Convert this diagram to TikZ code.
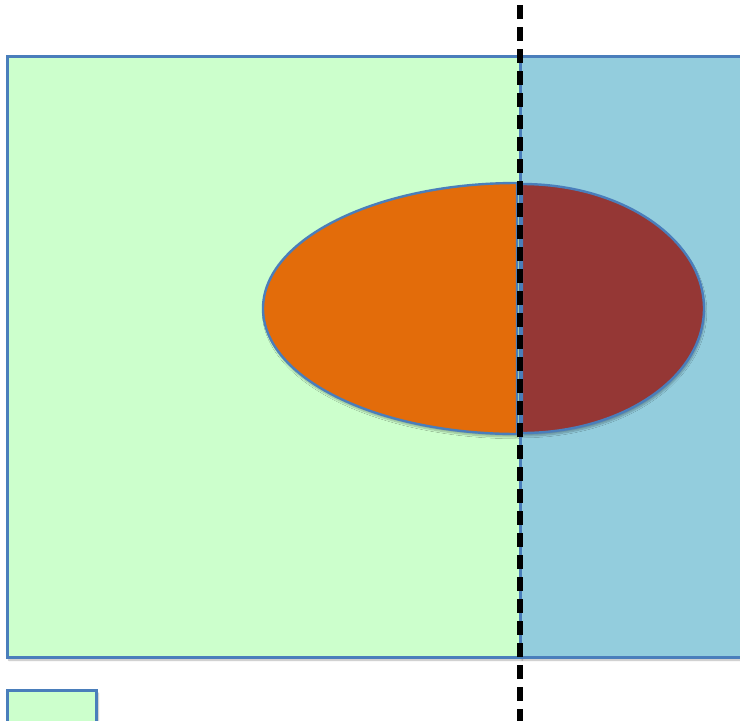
\documentclass[tikz,border=0pt]{standalone}
\usetikzlibrary{shadows.blur}
\definecolor{lgreen}{HTML}{CCFFCC}
\definecolor{lblue}{HTML}{93CDDD}
\definecolor{orng}{HTML}{E36C0A}
\definecolor{dred}{HTML}{953735}
\definecolor{edge}{HTML}{4A7EBB}
\tikzset{
  region/.style={draw=edge, line width=3pt, blur shadow={shadow xshift=2pt, shadow yshift=-3pt, shadow blur steps=8, shadow opacity=30}},
  half/.style={draw=edge, line width=2.4pt, blur shadow={shadow xshift=1pt, shadow yshift=-3pt, shadow blur steps=8, shadow opacity=30}},
  cut/.style={line width=5.5pt, dash pattern=on 14pt off 8pt}
}
\begin{document}
\begin{tikzpicture}[x=1pt,y=-1pt]
\useasboundingbox (0,0) rectangle (740,721);
\clip (0,0) rectangle (740,721);
\draw[region, fill=lgreen] (7,56) rectangle (520,657);
\draw[region, fill=lblue] (520,56) rectangle (760,657);
\draw[region, fill=lgreen] (7,690) rectangle (96,740);
\draw[half, fill=orng] (517,183) arc[start angle=270, end angle=90, x radius=254, y radius=125.5] -- cycle;
\draw[half, fill=dred] (522,184) arc[start angle=-90, end angle=90, x radius=182, y radius=124.5] -- cycle;
\coordinate (top) at (520,5);
\coordinate (bot) at (520,721);
\draw[cut] (top) -- (bot);
\end{tikzpicture}
\end{document}
